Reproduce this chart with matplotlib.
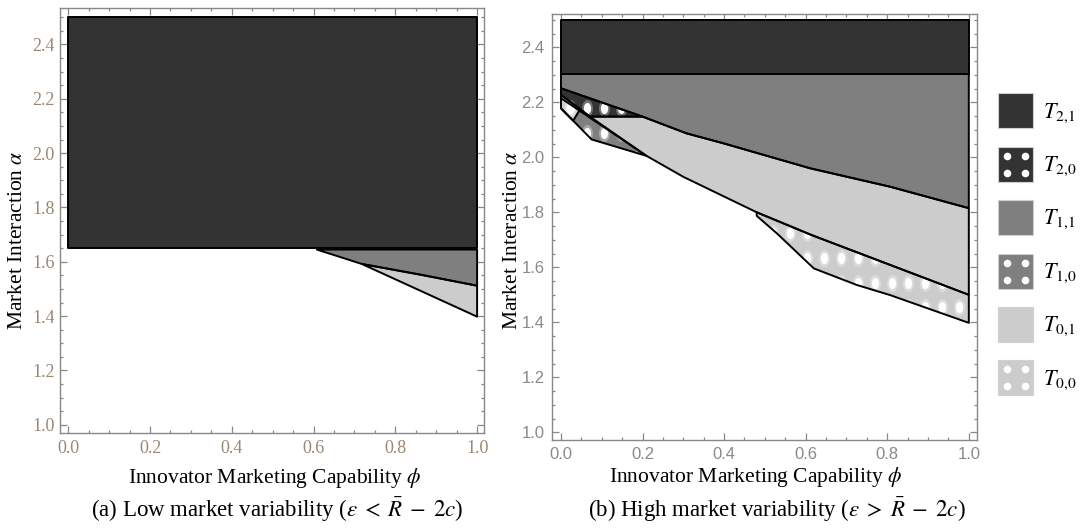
import numpy as np
import matplotlib
matplotlib.use("Agg")
import matplotlib.pyplot as plt
from matplotlib.patches import Polygon, Rectangle
from matplotlib.path import Path
from matplotlib.transforms import Affine2D
from matplotlib.ticker import MultipleLocator, FormatStrFormatter

plt.rcParams['mathtext.fontset'] = 'stix'
plt.rcParams['font.family'] = ['Liberation Serif', 'DejaVu Serif']

DARK, MID, LIGHT = '#333333', '#7f7f7f', '#cccccc'

# ---- panel (a): low market variability ----
a_t21_x = [0.0, 1.0, 1.0, 0.0]
a_t21_y = [1.65, 1.65, 2.5, 2.5]
a_t11_x = [0.608, 1.0, 1.0, 0.86, 0.718]
a_t11_y = [1.645, 1.645, 1.512, 1.553, 1.592]
a_t01_x = [0.718, 0.86, 1.0, 1.0]
a_t01_y = [1.592, 1.553, 1.512, 1.398]

# ---- panel (b): high market variability ----
b_t21_x = [0.0, 1.0, 1.0, 0.0]
b_t21_y = [2.303, 2.303, 2.5, 2.5]
# upper boundary of T_{0,1} / lower boundary of T_{1,1}
b_curve_x = [0.0, 0.2, 0.308, 0.398, 0.611, 0.807, 1.0]
b_curve_y = [2.251, 2.148, 2.087, 2.051, 1.96, 1.893, 1.815]
b_t20_x = [0.0, 0.2, 0.071, 0.0]
b_t20_y = [2.251, 2.148, 2.148, 2.227]
b_t10_x = [0.0, 0.21, 0.075, 0.0]
b_t10_y = [2.215, 2.005, 2.065, 2.178]
b_t00s_x = [0.0, 0.071, 0.045, 0.03, 0.0]
b_t00s_y = [2.227, 2.148, 2.17, 2.133, 2.178]
b_t01_low_x = [1.0, 0.615, 0.48, 0.3, 0.21, 0.071]
b_t01_low_y = [1.5, 1.717, 1.80, 1.929, 2.005, 2.148]
b_t00_x = [0.48, 0.615, 1.0, 1.0, 0.807, 0.725, 0.62, 0.529, 0.48]
b_t00_y = [1.80, 1.717, 1.5, 1.398, 1.499, 1.536, 1.596, 1.724, 1.787]

legend_labels = [r'$T_{2{,}1}$', r'$T_{2{,}0}$', r'$T_{1{,}1}$',
                 r'$T_{1{,}0}$', r'$T_{0{,}1}$', r'$T_{0{,}0}$']
legend_colors = [DARK, DARK, MID, MID, LIGHT, LIGHT]
legend_dotted = [False, True, False, True, False, True]

# dot fill pattern (style)
DOT_X0, DOT_DX = 0.022, 0.0415
DOT_Y0, DOT_DY = 2.178, 0.0905
ELL = Path.unit_circle().transformed(Affine2D().scale(0.65, 1.0))


def region(ax, xs, ys, color, dotted=False):
    pts = np.column_stack([xs, ys])
    fill = Polygon(pts, closed=True, fc=color, ec='none', zorder=2)
    ax.add_patch(fill)
    if dotted:
        gx, gy = np.meshgrid(DOT_X0 + DOT_DX * np.arange(-1, 26),
                             DOT_Y0 - DOT_DY * np.arange(-1, 14))
        for s, a in [(150, 0.3), (65, 1.0)]:
            sc = ax.scatter(gx.ravel(), gy.ravel(), s=s, marker=ELL, c='white',
                            alpha=a, linewidths=0, zorder=3)
            sc.set_clip_path(fill)
    ax.add_patch(Polygon(pts, closed=True, fc='none', ec='black', lw=1.4,
                         zorder=4, joinstyle='round'))


def style_axes(ax, xlim, ylim, tick_font, tick_color, tick_size):
    ax.set_xlim(*xlim)
    ax.set_ylim(*ylim)
    ax.xaxis.set_major_locator(MultipleLocator(0.2))
    ax.xaxis.set_minor_locator(MultipleLocator(0.05))
    ax.yaxis.set_major_locator(MultipleLocator(0.2))
    ax.yaxis.set_minor_locator(MultipleLocator(0.05))
    ax.xaxis.set_major_formatter(FormatStrFormatter('%.1f'))
    ax.yaxis.set_major_formatter(FormatStrFormatter('%.1f'))
    ax.tick_params(which='both', direction='in', top=True, right=True,
                   color='#888888', width=0.9)
    ax.tick_params(which='major', length=5, labelsize=tick_size,
                   labelcolor=tick_color, pad=5)
    ax.tick_params(which='minor', length=2.5)
    for lab in ax.get_xticklabels() + ax.get_yticklabels():
        lab.set_family(tick_font)
    for sp in ax.spines.values():
        sp.set_color('#888888')
        sp.set_linewidth(1.0)
    ax.set_xlabel(r'Innovator Marketing Capability $\phi$', fontsize=15.5)
    ax.set_ylabel(r'Market Interaction $\alpha$', fontsize=15.5)
    ax.xaxis.label.set_va('center')
    ax.yaxis.label.set_va('center')


fig = plt.figure(figsize=(10.8, 5.29), dpi=100)

axL = fig.add_axes([0.0556, 0.1815, 0.3926, 0.8034])
region(axL, a_t21_x, a_t21_y, DARK)
region(axL, a_t11_x, a_t11_y, MID)
region(axL, a_t01_x, a_t01_y, LIGHT)
style_axes(axL, (-0.02, 1.017), (0.97, 2.534), 'Liberation Serif', '#9c8670', 13)
axL.tick_params(axis='y', which='major', pad=4)
axL.xaxis.set_label_coords(0.507, -0.106)
axL.yaxis.set_label_coords(-0.1, 0.454)

axR = fig.add_axes([0.5108, 0.1682, 0.3938, 0.8053])
region(axR, b_t21_x, b_t21_y, DARK)
region(axR, [0.0] + b_curve_x + [1.0], [2.303] + b_curve_y + [2.303], MID)
region(axR, b_curve_x[1:] + b_t01_low_x, b_curve_y[1:] + b_t01_low_y, LIGHT)
region(axR, b_t20_x, b_t20_y, DARK, dotted=True)
region(axR, b_t10_x, b_t10_y, MID, dotted=True)
region(axR, b_t00s_x, b_t00s_y, LIGHT, dotted=True)
region(axR, b_t00_x, b_t00_y, LIGHT, dotted=True)
style_axes(axR, (-0.0228, 1.020), (0.972, 2.521), 'Liberation Sans', '#8a8a8a', 12)
axR.xaxis.set_label_coords(0.48, -0.086)
axR.yaxis.set_label_coords(-0.092, 0.469)

fig.text(277 / 1080, 1 - 510 / 529,
         r'(a) Low market variability ($\epsilon\;<\;\bar{R}\;-\;2c$)',
         ha='center', va='center', fontsize=16.5)
fig.text(777 / 1080, 1 - 510 / 529,
         r'(b) High market variability ($\epsilon\;>\;\bar{R}\;-\;2c$)',
         ha='center', va='center', fontsize=16.5)

# legend
axLeg = fig.add_axes([990 / 1080, 1 - 410 / 529, 90 / 1080, 330 / 529])
axLeg.set_xlim(990, 1080)
axLeg.set_ylim(410, 80)
axLeg.axis('off')
for i, (lab, col, dot) in enumerate(zip(legend_labels, legend_colors, legend_dotted)):
    cy = 110.8 + 53.4 * i
    axLeg.add_patch(Rectangle((998, cy - 17.5), 35, 35, fc=col, ec='#d0d0d0', lw=0.8))
    if dot:
        axLeg.scatter([1006.5, 1024.5, 1006.5, 1024.5], [cy - 8.5, cy - 8.5, cy + 8.5, cy + 8.5],
                      s=30, c='white', linewidths=0, zorder=3)
    axLeg.text(1043, cy + 2, lab, fontsize=16, va='center', ha='left')

fig.savefig('out.png', dpi=100)
